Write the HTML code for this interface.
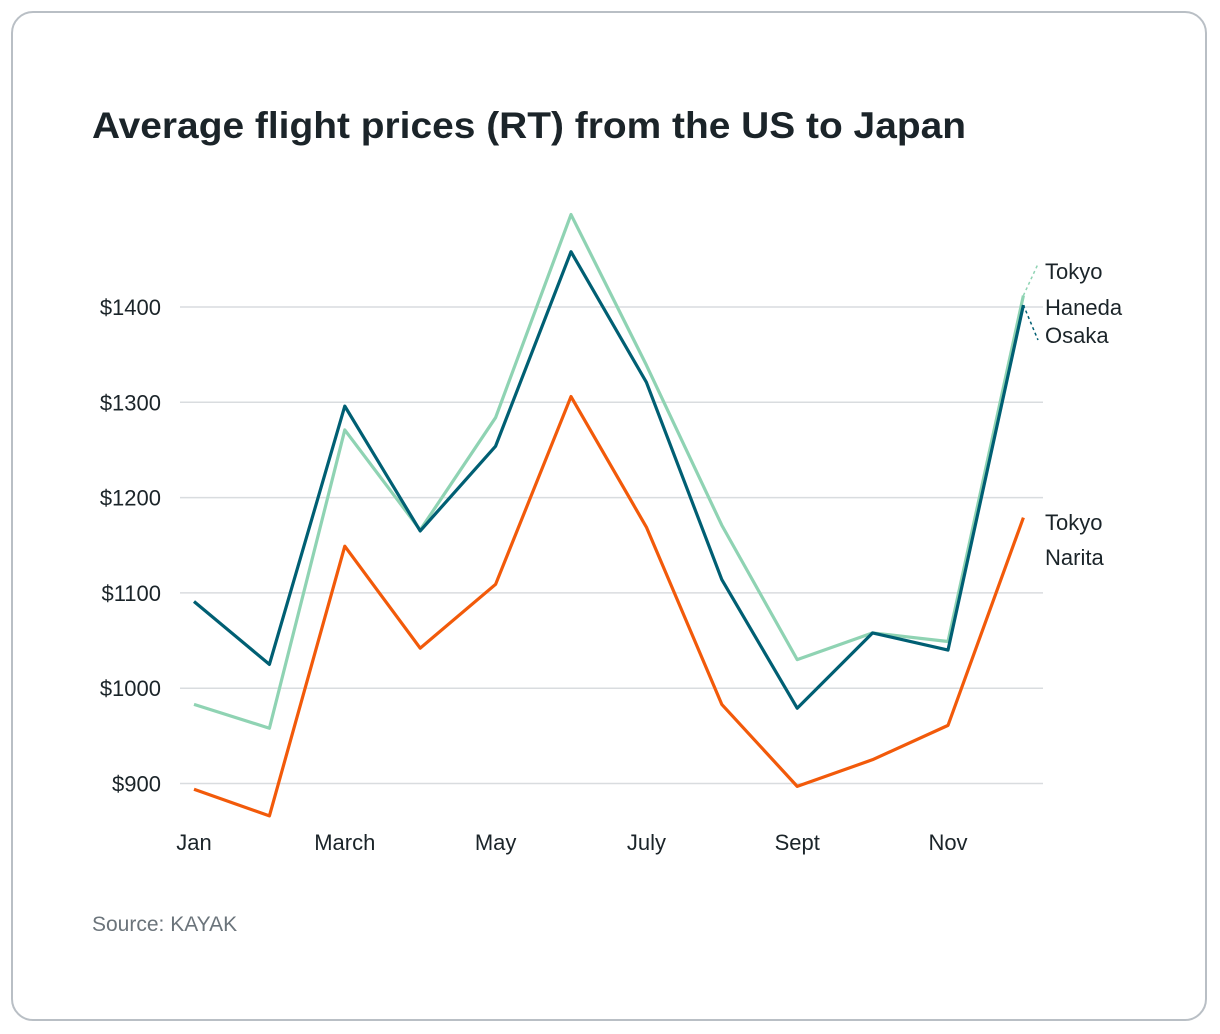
<!DOCTYPE html>
<html><head><meta charset="utf-8"><style>
body{margin:0;background:#fff;width:1220px;height:1034px;overflow:hidden;font-family:"Liberation Sans",sans-serif;}
.card{position:absolute;left:11px;top:11px;width:1196px;height:1010px;border:2px solid #b9bfc5;border-radius:22px;box-sizing:border-box;}
</style></head><body>
<div class="card"></div>
<svg width="1220" height="1034" style="position:absolute;left:0;top:0">
<text x="92" y="138" font-size="37" font-weight="bold" fill="#1b2429" textLength="874" lengthAdjust="spacingAndGlyphs">Average flight prices (RT) from the US to Japan</text>
<g id="grid"></g><g id="lines"></g><g id="labels"></g>
<text x="92" y="931" font-size="21" fill="#6b747b">Source: KAYAK</text>
</svg>
<script>
const months=["Jan","Feb","March","Apr","May","Jun","July","Aug","Sept","Oct","Nov","Dec"];
const tickLabels=["Jan","March","May","July","Sept","Nov"];
const yTicks=[900,1000,1100,1200,1300,1400];
const haneda=[983,958,1271,1166,1284,1497,1339,1171,1030,1058,1049,1412];
const osaka=[1091,1025,1296,1165,1254,1458,1321,1114,979,1058,1040,1402];
const narita=[894,866,1149,1042,1109,1306,1169,983,897,925,961,1179];
const NS="http://www.w3.org/2000/svg";
const x=i=>194+i*75.4;
const y=v=>307+(1400-v)*0.953;
function mk(t,a,p){const e=document.createElementNS(NS,t);for(const k in a)e.setAttribute(k,a[k]);document.getElementById(p).appendChild(e);return e;}
yTicks.forEach(v=>{
 const l=mk("line",{x1:180,x2:1043,y1:y(v),y2:y(v),stroke:"#d9dcdf","stroke-width":1.5},"grid");
 
 
 const t=mk("text",{x:161,y:y(v)+8,"font-size":22,fill:"#1b2429","text-anchor":"end"},"grid");
 t.textContent="$"+v;
 
 
});
tickLabels.forEach(m=>{
 const i=months.indexOf(m);
 const t=mk("text",{x:x(i),y:850,"font-size":22,fill:"#1b2429","text-anchor":"middle"},"grid");
 t.textContent=m;
 
 
});
function series(d,c,name){
 const p=mk("polyline",{points:d.map((v,i)=>x(i)+","+y(v)).join(" "),fill:"none",stroke:c,"stroke-width":3.2,"stroke-linejoin":"round"},"lines");
 
 
}
series(haneda,"#8fd3b3","line-tokyo-haneda");
series(narita,"#f25a0a","line-tokyo-narita");
series(osaka,"#005f73","line-osaka");
const n=months.length-1;
const l1=mk("line",{x1:x(n),y1:y(haneda[n]),x2:1038,y2:264,stroke:"#8fd3b3","stroke-width":1.5,"stroke-dasharray":"3,3"},"labels");


const l2=mk("line",{x1:x(n),y1:y(osaka[n]),x2:1038,y2:340,stroke:"#005f73","stroke-width":1.5,"stroke-dasharray":"3,3"},"labels");


[["Tokyo",279],["Haneda",315],["Osaka",343],["Tokyo",530],["Narita",565]].forEach(([s,yy])=>{
 const t=mk("text",{x:1045,y:yy,"font-size":22,fill:"#1b2429"},"labels");
 t.textContent=s;
 
 
});
</script>
</body></html>
